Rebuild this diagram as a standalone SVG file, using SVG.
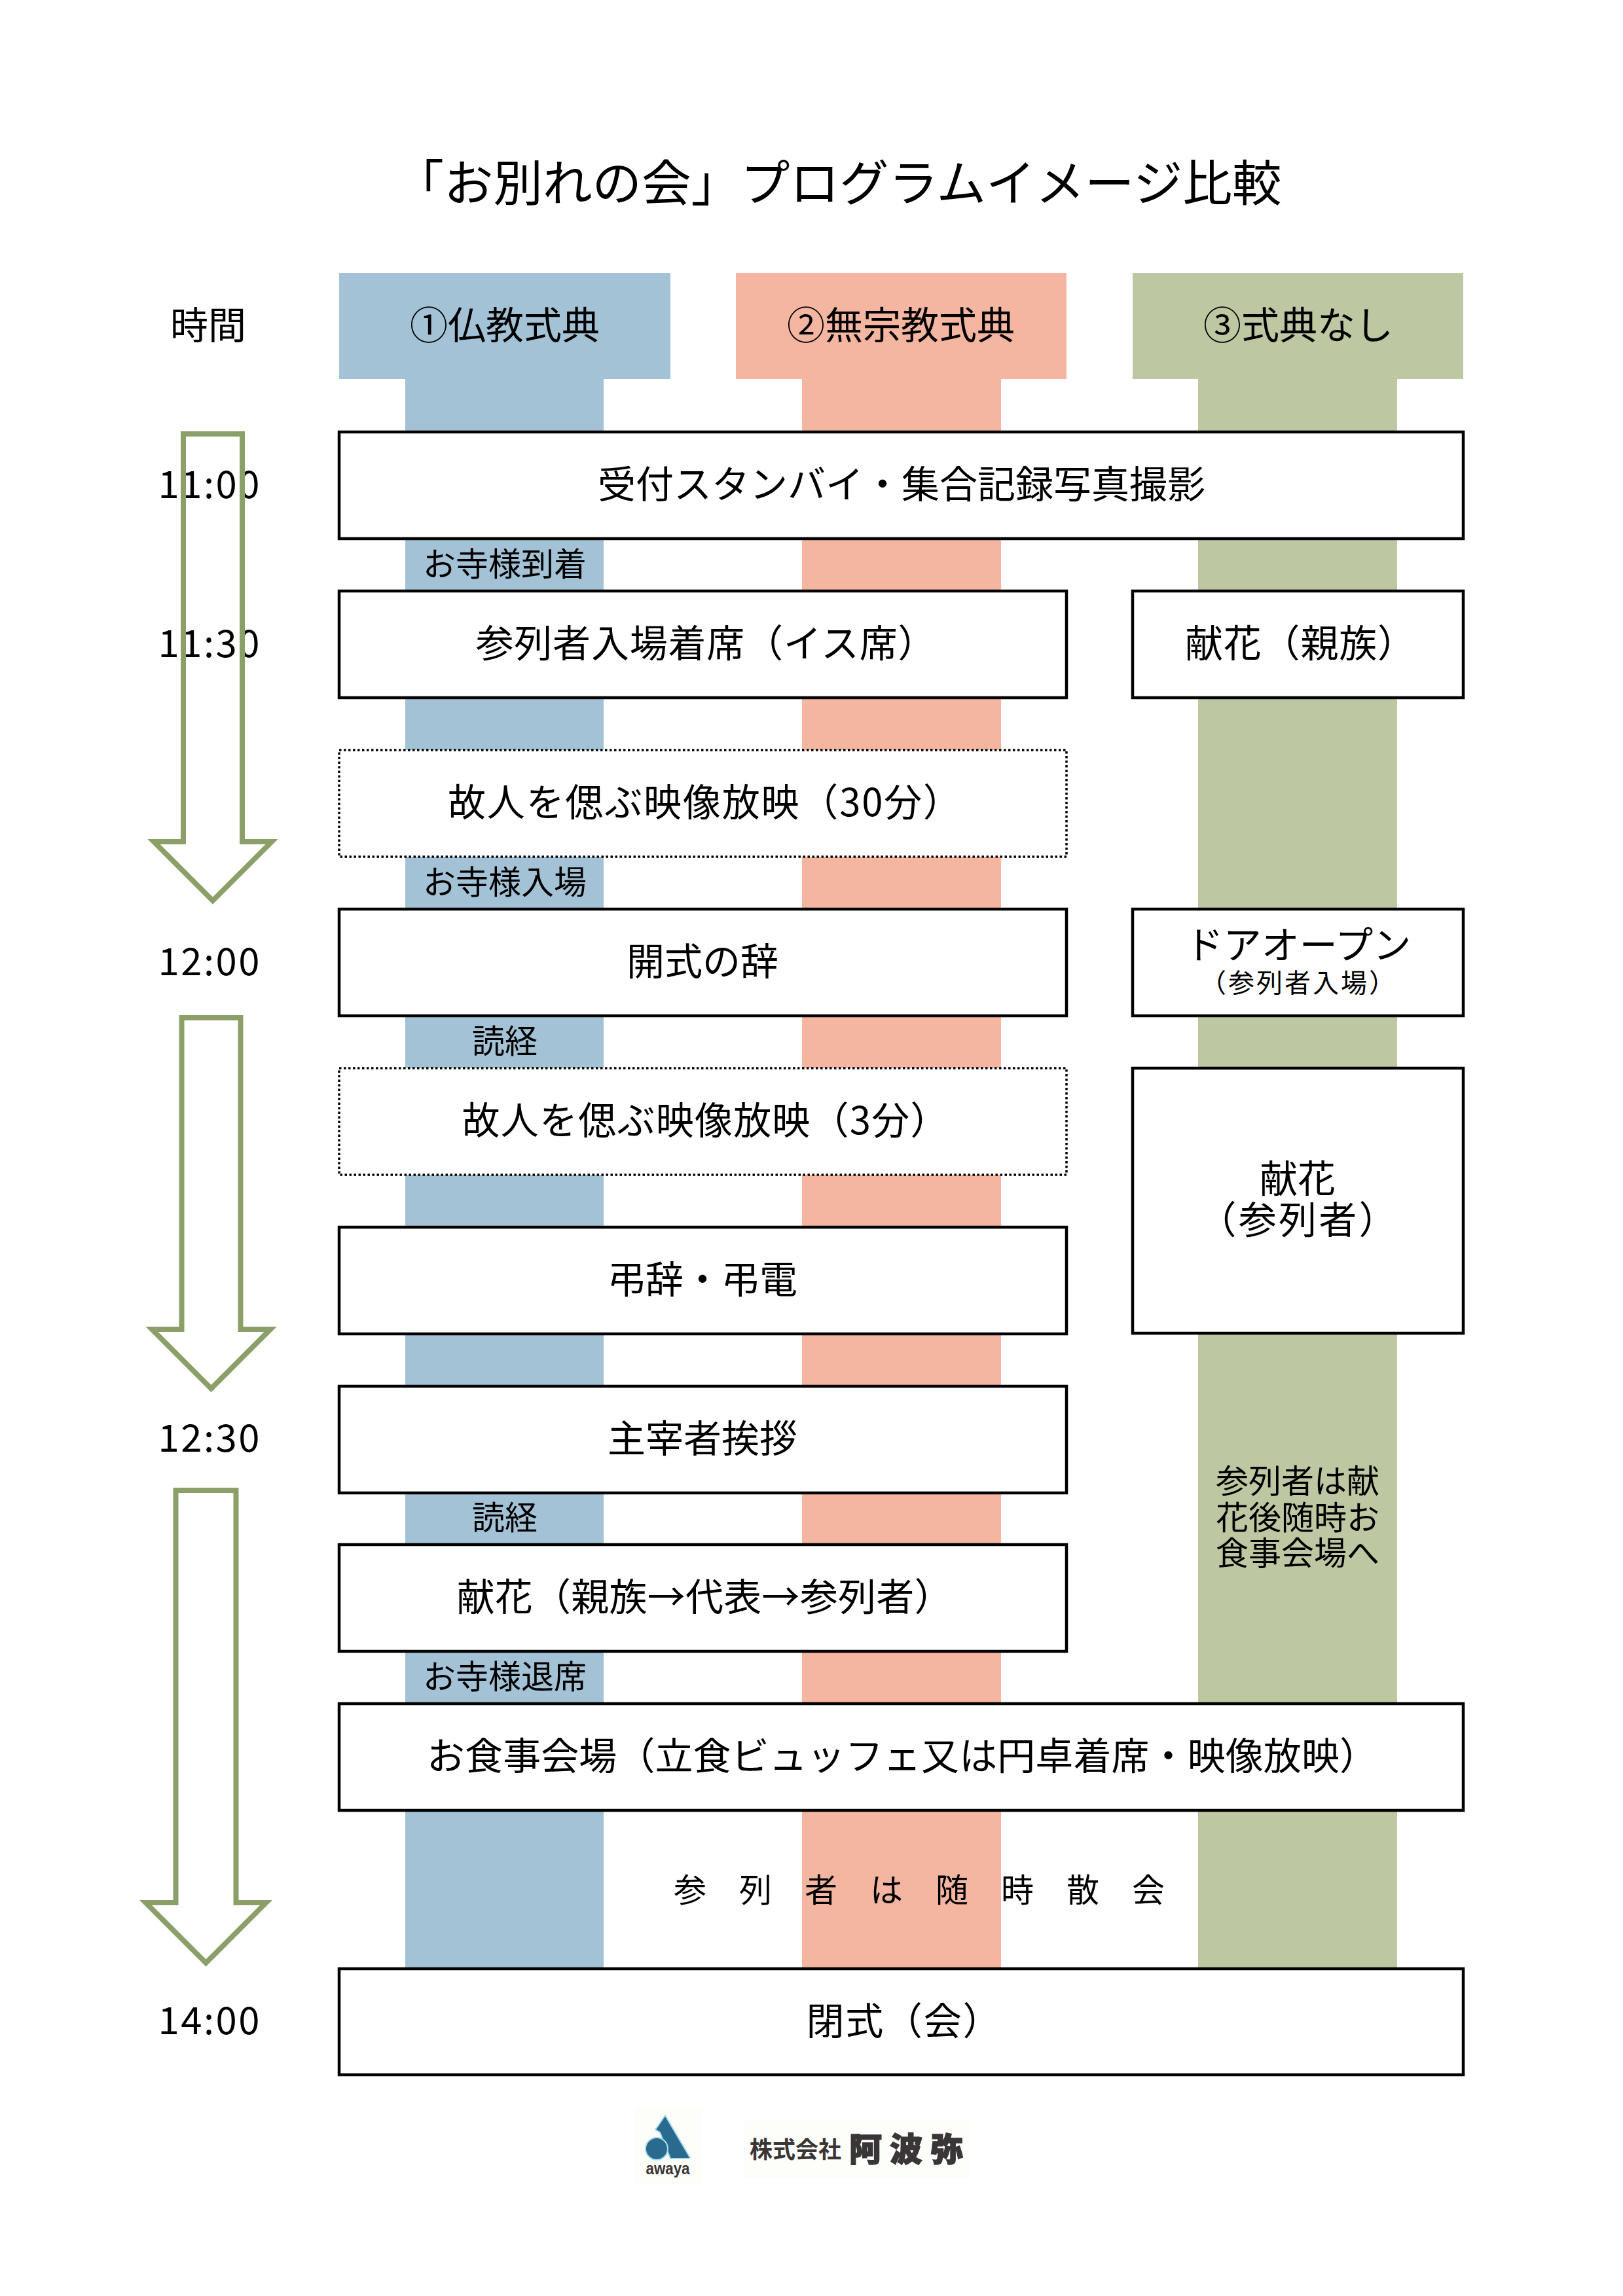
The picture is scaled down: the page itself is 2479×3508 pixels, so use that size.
<svg xmlns="http://www.w3.org/2000/svg" width="2479" height="3508" viewBox="0 0 2479 3508">
<style>
text{font-family:"Noto Sans CJK JP","Noto Sans",sans-serif;fill:#000;text-anchor:middle}
.t{font-size:58px}
.s{font-size:50px}
.box{fill:#fff;stroke:#000;stroke-width:4.5}
.dot{fill:#fff;stroke:#000;stroke-width:3.5;stroke-dasharray:3.5 3.5}
.arrow{fill:none;stroke:#8c9f68;stroke-width:8;stroke-miterlimit:10}
.b{fill:#a3c2d6}.p{fill:#f4b6a1}.g{fill:#bdc8a2}
</style>
<rect width="2479" height="3508" fill="#fff"/>
<g id="title"><text x="1280" y="307" style="font-size:75.5px">「お別れの会」プログラムイメージ比較</text></g>
<g id="col-1"><rect class="b" x="518" y="417" width="506" height="162"/><rect class="b" x="619" y="579" width="303" height="2430"/><text class="t" x="771" y="518">①仏教式典</text></g>
<g id="col-2"><rect class="p" x="1124" y="417" width="505" height="162"/><rect class="p" x="1225" y="579" width="304" height="2430"/><text class="t" x="1376" y="518">②無宗教式典</text></g>
<g id="col-3"><rect class="g" x="1730" y="417" width="505" height="162"/><rect class="g" x="1830" y="579" width="304" height="2430"/><text class="t" x="1983" y="518">③式典なし</text></g>
<g id="time-labels">
<text class="t" x="318" y="518">時間</text>
<text class="t" x="319" y="761" textLength="155">11:00</text>
<text class="t" x="319" y="1004" textLength="155">11:30</text>
<text class="t" x="319" y="1490" textLength="155">12:00</text>
<text class="t" x="319" y="2218" textLength="155">12:30</text>
<text class="t" x="319" y="3108" textLength="155">14:00</text>
</g>
<g id="priest-notes">
<text class="s" x="771" y="880">お寺様到着</text>
<text class="s" x="771" y="1366">お寺様入場</text>
<text class="s" x="771" y="1609">読経</text>
<text class="s" x="771" y="2337">読経</text>
<text class="s" x="771" y="2580">お寺様退席</text>
</g>
<g id="n1"><rect class="box" x="518" y="660" width="1717" height="163"/><text class="t" x="1377" y="761">受付スタンバイ・集合記録写真撮影</text></g>
<g id="n2"><rect class="box" x="518" y="903" width="1111" height="163"/><text class="t" x="1078" y="1004" textLength="703">参列者入場着席（イス席）</text></g>
<g id="n3"><rect class="box" x="1730" y="903" width="505" height="163"/><text class="t" x="1986" y="1004" textLength="352">献花（親族）</text></g>
<g id="n4"><rect class="dot" x="518" y="1146" width="1111" height="163"/><text class="t" x="1076" y="1247" textLength="784">故人を偲ぶ映像放映（30分）</text></g>
<g id="n5"><rect class="box" x="518" y="1389" width="1111" height="163"/><text class="t" x="1073" y="1490">開式の辞</text></g>
<g id="n6"><rect class="box" x="1730" y="1389" width="505" height="163"/><text class="t" x="1983" y="1465">ドアオープン</text><text x="1982" y="1516" style="font-size:40px" textLength="298">（参列者入場）</text></g>
<g id="n7"><rect class="dot" x="518" y="1632" width="1111" height="163"/><text class="t" x="1077" y="1733" textLength="743">故人を偲ぶ映像放映（3分）</text></g>
<g id="n8"><rect class="box" x="1730" y="1632" width="505" height="405"/><text class="t" x="1982" y="1822">献花</text><text class="t" x="1982" y="1885" textLength="303">（参列者）</text></g>
<g id="n9"><rect class="box" x="518" y="1875" width="1111" height="163"/><text class="t" x="1073" y="1976">弔辞・弔電</text></g>
<g id="n10"><rect class="box" x="518" y="2118" width="1111" height="163"/><text class="t" x="1073" y="2219">主宰者挨拶</text></g>
<g id="n11"><text class="s" x="1982" y="2281">参列者は献</text><text class="s" x="1982" y="2337">花後随時お</text><text class="s" x="1982" y="2391">食事会場へ</text></g>
<g id="n12"><rect class="box" x="518" y="2360" width="1111" height="163"/><text class="t" x="1076" y="2461" textLength="757">献花（親族→代表→参列者）</text></g>
<g id="n13"><rect class="box" x="518" y="2603" width="1717" height="163"/><text class="t" x="1378" y="2704" textLength="1452">お食事会場（立食ビュッフェ又は円卓着席・映像放映）</text></g>
<g id="n14"><text class="s" x="1429" y="2906" style="letter-spacing:50px">参列者は随時散会</text></g>
<g id="n15"><rect class="box" x="518" y="3008" width="1717" height="162"/><text class="t" x="1380" y="3109" textLength="297">閉式（会）</text></g>
<g id="connectors">
<polygon class="arrow" points="280,663 370,663 370,1286 415,1286 325,1376 235,1286 280,1286"/>
<polygon class="arrow" points="277.5,1555 367.5,1555 367.5,2031 413,2031 322.5,2121.5 232,2031 277.5,2031"/>
<polygon class="arrow" points="268.5,2277 360.5,2277 360.5,2907 406.5,2907 314.5,2999 222.5,2907 268.5,2907"/>
</g>
<g id="logo">
<rect x="969" y="3220" width="103" height="115" fill="#fdfdfa"/>
<rect x="1137" y="3240" width="345" height="88" fill="#fdfdfa"/>
<path d="M1016 3232 L1053 3295 Q1055 3298 1051 3298 L1024 3298 L1008 3258 L1001 3254 Z" fill="#2a6a8e" stroke="#a8dcea" stroke-width="2"/>
<circle cx="1003" cy="3283" r="17" fill="#2a6a8e" stroke="#a8dcea" stroke-width="2"/>
<text x="1020" y="3322" textLength="67" lengthAdjust="spacingAndGlyphs" style="font-family:'Liberation Sans',sans-serif;font-size:25px;font-weight:700;fill:#3a3536">awaya</text>
<text x="1215" y="3297" style="font-size:35px;font-weight:700;fill:#3a3536">株式会社</text>
<text x="1390" y="3302" style="font-size:50px;font-weight:900;fill:#3a3536;stroke:#3a3536;stroke-width:1.5;letter-spacing:12px">阿波弥</text>
</g>
</svg>
